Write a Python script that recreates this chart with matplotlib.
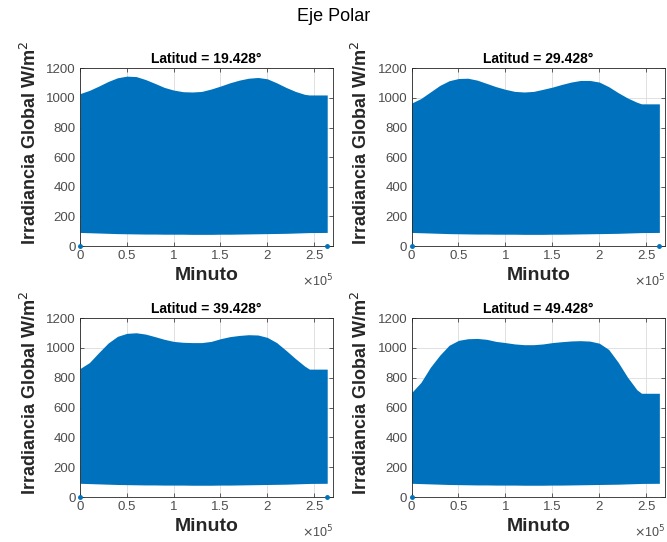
import matplotlib
matplotlib.use("Agg")
import matplotlib.pyplot as plt
from matplotlib.ticker import FuncFormatter

plt.rcParams['font.family'] = ['Liberation Sans', 'DejaVu Sans']

# minute positions (x 1e5) where the daily peak envelope was sampled
minutes = [0, 0.1, 0.2, 0.3, 0.4, 0.5, 0.6, 0.7, 0.8, 0.9, 1.0, 1.1, 1.2, 1.3,
           1.4, 1.5, 1.6, 1.7, 1.8, 1.9, 2.0, 2.1, 2.2, 2.3, 2.4, 2.45, 2.64]

latitudes = ["19.428", "29.428", "39.428", "49.428"]

peak_19 = [1029, 1051, 1080, 1111, 1136, 1147, 1144, 1124, 1098, 1071, 1053, 1042, 1040, 1044,
           1060, 1080, 1102, 1120, 1133, 1138, 1129, 1102, 1071, 1044, 1024, 1020, 1020]
peak_29 = [965, 996, 1040, 1084, 1116, 1131, 1133, 1120, 1098, 1076, 1058, 1044, 1040, 1044,
           1058, 1073, 1091, 1107, 1118, 1118, 1107, 1076, 1036, 1000, 971, 960, 960]
peak_39 = [862, 902, 969, 1033, 1078, 1098, 1102, 1093, 1076, 1058, 1044, 1038, 1036, 1036,
           1044, 1062, 1076, 1084, 1089, 1087, 1071, 1036, 984, 929, 878, 858, 858]
peak_49 = [700, 769, 870, 951, 1018, 1051, 1062, 1064, 1058, 1044, 1036, 1027, 1022, 1022,
           1027, 1036, 1042, 1047, 1049, 1046, 1032, 990, 905, 805, 720, 696, 696]

# lowest daytime irradiance (same floor for every latitude)
floor = [92, 90, 88, 86, 84, 83, 82, 81, 81, 80, 80, 80, 79, 79,
         79, 80, 80, 81, 82, 83, 84, 85, 86, 88, 90, 91, 92]

peaks = [peak_19, peak_29, peak_39, peak_49]
# first / last samples sit at zero
end_points = [[0, 2.64], [0, 2.64], [0, 2.64], [0]]

blue = "#0072BD"
dark = "#262626"
grey = "#4d4d4d"

fig = plt.figure(figsize=(6.67, 5.42), dpi=100)
fig.suptitle("Eje Polar", fontsize=13, y=0.985, color="black")

boxes = [
    [0.120, 0.546, 0.379, 0.328],
    [0.617, 0.546, 0.380, 0.328],
    [0.120, 0.083, 0.379, 0.330],
    [0.617, 0.083, 0.380, 0.330],
]

fmt = FuncFormatter(lambda v, p: "%g" % (v / 1e5))

for i in range(4):
    ax = fig.add_axes(boxes[i])
    x = [m * 1e5 for m in minutes]
    ax.fill_between(x, floor, peaks[i], color=blue, linewidth=0)
    ax.plot([m * 1e5 for m in end_points[i]], [0] * len(end_points[i]), ".",
            color=blue, markersize=5, clip_on=False, zorder=5)

    ax.set_xlim(0, 2.7e5)
    ax.set_ylim(0, 1200)
    ax.set_xticks([0, 0.5e5, 1e5, 1.5e5, 2e5, 2.5e5])
    ax.set_yticks(range(0, 1201, 200))
    ax.xaxis.set_major_formatter(fmt)

    ax.set_axisbelow(True)
    ax.grid(True, color="#dcdcdc", linewidth=0.6)
    ax.tick_params(direction="in", length=3, width=0.5, top=True, right=True,
                   labelsize=9.5, colors=dark, labelcolor=grey, pad=3)
    for s in ax.spines.values():
        s.set_linewidth(0.6)
        s.set_color(dark)

    ax.set_title("Latitud = %s°" % latitudes[i], fontsize=10, fontweight="bold", pad=4)
    ax.set_xlabel("Minuto", fontsize=14, fontweight="bold", labelpad=3.5, color=dark)
    ax.set_ylabel("Irradiancia Global W/m$^2$", fontsize=13, fontweight="bold", color=dark)
    ax.yaxis.set_label_coords(-0.16, 0.58)
    ax.text(1.0, -0.15, r"$\times$10$^5$", transform=ax.transAxes, ha="right",
            va="top", fontsize=9, color=grey)

fig.savefig("out.png", dpi=100)
